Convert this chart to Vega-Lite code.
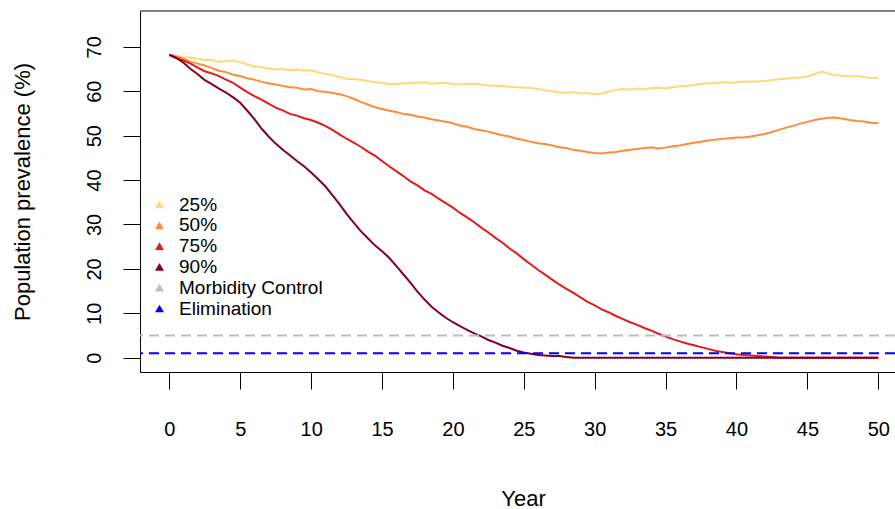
{
  "$schema": "https://vega.github.io/schema/vega-lite/v6.json",
  "width": 755,
  "height": 361,
  "autosize": {"type": "none"},
  "padding": {"left": 140, "top": 11, "right": 0, "bottom": 137},
  "background": "white",
  "config": {"view": {"stroke": null}, "font": "Liberation Sans"},
  "datasets": {
    "prev": [
      {"t":0,"25%":68.2,"50%":68.2,"75%":68.2,"90%":68.2},
      {"t":0.5,"25%":67.7,"50%":67.9,"75%":67.4,"90%":67.5},
      {"t":1,"25%":67.6,"50%":67.3,"75%":66.9,"90%":66.4},
      {"t":1.5,"25%":67.6,"50%":66.6,"75%":66.2,"90%":65.0},
      {"t":2,"25%":67.3,"50%":66.2,"75%":65.3,"90%":63.8},
      {"t":2.5,"25%":67.0,"50%":65.8,"75%":64.5,"90%":62.5},
      {"t":3,"25%":67.0,"50%":65.2,"75%":64.0,"90%":61.6},
      {"t":3.5,"25%":66.6,"50%":64.6,"75%":63.4,"90%":60.6},
      {"t":4,"25%":66.8,"50%":64.3,"75%":62.6,"90%":59.7},
      {"t":4.5,"25%":66.9,"50%":63.7,"75%":61.9,"90%":58.6},
      {"t":5,"25%":66.5,"50%":63.4,"75%":60.8,"90%":57.4},
      {"t":5.5,"25%":66.0,"50%":62.9,"75%":59.8,"90%":55.6},
      {"t":6,"25%":65.6,"50%":62.6,"75%":58.9,"90%":53.7},
      {"t":6.5,"25%":65.4,"50%":62.1,"75%":58.1,"90%":51.6},
      {"t":7,"25%":65.1,"50%":61.8,"75%":57.2,"90%":49.8},
      {"t":7.5,"25%":64.9,"50%":61.5,"75%":56.3,"90%":48.2},
      {"t":8,"25%":65.0,"50%":61.2,"75%":55.7,"90%":46.8},
      {"t":8.5,"25%":64.7,"50%":60.9,"75%":54.9,"90%":45.6},
      {"t":9,"25%":64.9,"50%":60.8,"75%":54.5,"90%":44.3},
      {"t":9.5,"25%":64.6,"50%":60.4,"75%":53.9,"90%":43.1},
      {"t":10,"25%":64.7,"50%":60.5,"75%":53.5,"90%":41.7},
      {"t":10.5,"25%":64.2,"50%":60.0,"75%":52.9,"90%":40.2},
      {"t":11,"25%":63.9,"50%":59.9,"75%":52.2,"90%":38.6},
      {"t":11.5,"25%":63.6,"50%":59.6,"75%":51.3,"90%":36.6},
      {"t":12,"25%":63.2,"50%":59.3,"75%":50.3,"90%":34.6},
      {"t":12.5,"25%":62.8,"50%":58.9,"75%":49.3,"90%":32.4},
      {"t":13,"25%":62.7,"50%":58.3,"75%":48.4,"90%":30.4},
      {"t":13.5,"25%":62.6,"50%":57.6,"75%":47.5,"90%":28.5},
      {"t":14,"25%":62.3,"50%":57.0,"75%":46.4,"90%":26.9},
      {"t":14.5,"25%":62.0,"50%":56.4,"75%":45.5,"90%":25.3},
      {"t":15,"25%":61.9,"50%":56.0,"75%":44.3,"90%":24.0},
      {"t":15.5,"25%":61.6,"50%":55.6,"75%":43.1,"90%":22.5},
      {"t":16,"25%":61.6,"50%":55.3,"75%":42.0,"90%":20.7},
      {"t":16.5,"25%":61.8,"50%":54.9,"75%":40.9,"90%":18.8},
      {"t":17,"25%":61.8,"50%":54.7,"75%":39.7,"90%":16.9},
      {"t":17.5,"25%":61.9,"50%":54.3,"75%":38.8,"90%":14.9},
      {"t":18,"25%":62.0,"50%":54.1,"75%":37.7,"90%":13.1},
      {"t":18.5,"25%":61.7,"50%":53.7,"75%":36.9,"90%":11.5},
      {"t":19,"25%":61.8,"50%":53.4,"75%":35.8,"90%":10.2},
      {"t":19.5,"25%":61.9,"50%":53.1,"75%":34.8,"90%":9.0},
      {"t":20,"25%":61.6,"50%":52.8,"75%":33.8,"90%":8.0},
      {"t":20.5,"25%":61.5,"50%":52.3,"75%":32.6,"90%":7.1},
      {"t":21,"25%":61.7,"50%":52.0,"75%":31.6,"90%":6.3},
      {"t":21.5,"25%":61.6,"50%":51.5,"75%":30.5,"90%":5.5},
      {"t":22,"25%":61.5,"50%":51.2,"75%":29.3,"90%":4.8},
      {"t":22.5,"25%":61.3,"50%":50.9,"75%":28.2,"90%":4.0},
      {"t":23,"25%":61.2,"50%":50.5,"75%":27.0,"90%":3.4},
      {"t":23.5,"25%":61.1,"50%":50.1,"75%":25.9,"90%":2.7},
      {"t":24,"25%":61.0,"50%":49.8,"75%":24.6,"90%":2.2},
      {"t":24.5,"25%":60.9,"50%":49.3,"75%":23.5,"90%":1.6},
      {"t":25,"25%":60.8,"50%":49.0,"75%":22.2,"90%":1.2},
      {"t":25.5,"25%":60.7,"50%":48.6,"75%":21.0,"90%":0.9},
      {"t":26,"25%":60.5,"50%":48.3,"75%":19.8,"90%":0.6},
      {"t":26.5,"25%":60.2,"50%":48.1,"75%":18.7,"90%":0.5},
      {"t":27,"25%":60.0,"50%":47.8,"75%":17.6,"90%":0.4},
      {"t":27.5,"25%":59.7,"50%":47.4,"75%":16.5,"90%":0.4},
      {"t":28,"25%":59.6,"50%":47.2,"75%":15.5,"90%":0.2},
      {"t":28.5,"25%":59.8,"50%":46.8,"75%":14.6,"90%":0},
      {"t":29,"25%":59.5,"50%":46.6,"75%":13.6,"90%":0},
      {"t":29.5,"25%":59.6,"50%":46.3,"75%":12.6,"90%":0},
      {"t":30,"25%":59.3,"50%":46.1,"75%":11.8,"90%":0},
      {"t":30.5,"25%":59.5,"50%":46.0,"75%":10.9,"90%":0},
      {"t":31,"25%":59.9,"50%":46.2,"75%":10.2,"90%":0},
      {"t":31.5,"25%":60.3,"50%":46.3,"75%":9.4,"90%":0},
      {"t":32,"25%":60.5,"50%":46.6,"75%":8.7,"90%":0},
      {"t":32.5,"25%":60.4,"50%":46.8,"75%":8.0,"90%":0},
      {"t":33,"25%":60.6,"50%":47.0,"75%":7.4,"90%":0},
      {"t":33.5,"25%":60.5,"50%":47.2,"75%":6.7,"90%":0},
      {"t":34,"25%":60.7,"50%":47.4,"75%":6.1,"90%":0},
      {"t":34.5,"25%":60.8,"50%":47.1,"75%":5.4,"90%":0},
      {"t":35,"25%":60.6,"50%":47.3,"75%":4.8,"90%":0},
      {"t":35.5,"25%":60.9,"50%":47.6,"75%":4.2,"90%":0},
      {"t":36,"25%":61.1,"50%":47.8,"75%":3.7,"90%":0},
      {"t":36.5,"25%":61.2,"50%":48.1,"75%":3.2,"90%":0},
      {"t":37,"25%":61.4,"50%":48.4,"75%":2.8,"90%":0},
      {"t":37.5,"25%":61.6,"50%":48.6,"75%":2.4,"90%":0},
      {"t":38,"25%":61.8,"50%":48.9,"75%":2.0,"90%":0},
      {"t":38.5,"25%":61.8,"50%":49.1,"75%":1.6,"90%":0},
      {"t":39,"25%":62.0,"50%":49.3,"75%":1.3,"90%":0},
      {"t":39.5,"25%":61.9,"50%":49.4,"75%":1.0,"90%":0},
      {"t":40,"25%":62.0,"50%":49.6,"75%":0.8,"90%":0},
      {"t":40.5,"25%":62.2,"50%":49.6,"75%":0.6,"90%":0},
      {"t":41,"25%":62.1,"50%":49.8,"75%":0.5,"90%":0},
      {"t":41.5,"25%":62.2,"50%":50.1,"75%":0.4,"90%":0},
      {"t":42,"25%":62.3,"50%":50.4,"75%":0.3,"90%":0},
      {"t":42.5,"25%":62.5,"50%":50.8,"75%":0.2,"90%":0},
      {"t":43,"25%":62.7,"50%":51.3,"75%":0,"90%":0},
      {"t":43.5,"25%":62.8,"50%":51.8,"75%":0,"90%":0},
      {"t":44,"25%":63.0,"50%":52.2,"75%":0,"90%":0},
      {"t":44.5,"25%":63.1,"50%":52.7,"75%":0,"90%":0},
      {"t":45,"25%":63.3,"50%":53.1,"75%":0,"90%":0},
      {"t":45.5,"25%":63.8,"50%":53.5,"75%":0,"90%":0},
      {"t":46,"25%":64.4,"50%":53.8,"75%":0,"90%":0},
      {"t":46.5,"25%":64.0,"50%":54.0,"75%":0,"90%":0},
      {"t":47,"25%":63.6,"50%":54.1,"75%":0,"90%":0},
      {"t":47.5,"25%":63.5,"50%":53.8,"75%":0,"90%":0},
      {"t":48,"25%":63.3,"50%":53.5,"75%":0,"90%":0},
      {"t":48.5,"25%":63.4,"50%":53.3,"75%":0,"90%":0},
      {"t":49,"25%":63.2,"50%":53.2,"75%":0,"90%":0},
      {"t":49.5,"25%":63.0,"50%":52.9,"75%":0,"90%":0},
      {"t":50,"25%":62.9,"50%":52.8,"75%":0,"90%":0}
    ],
    "ref": [
      {"series": "Morbidity Control", "value": 5},
      {"series": "Elimination", "value": 1}
    ]
  },
  "layer": [
    {
      "data": {"name": "prev"},
      "transform": [{"fold": ["25%", "50%", "75%", "90%"], "as": ["series", "value"]}],
      "mark": {"type": "line", "strokeWidth": 2},
      "encoding": {
        "x": {
          "field": "t", "type": "quantitative",
          "scale": {"domain": [-2.07, 51.18], "nice": false, "zero": false},
          "axis": {
            "title": "Year", "values": [0,5,10,15,20,25,30,35,40,45,50],
            "grid": false, "tickSize": 17, "tickColor": "#000", "domainColor": "#000",
            "labelColor": "#000", "titleColor": "#000",
            "labelFont": "Liberation Sans", "titleFont": "Liberation Sans",
            "labelFontSize": 20, "labelBaseline": "alphabetic", "labelPadding": 46,
            "labelFlush": false, "labelOverlap": false,
            "titleFontSize": 22, "titleFontWeight": "normal",
            "titleX": 383, "titleY": 133, "titleAlign": "center", "titleBaseline": "alphabetic"
          }
        },
        "y": {
          "field": "value", "type": "quantitative",
          "scale": {"domain": [-3.2, 78.05], "nice": false, "zero": false},
          "axis": {
            "title": "Population prevalence (%)",
            "values": [0,5,10,15,20,25,30,35,40,45,50,55,60,65,70,75],
            "labelExpr": "datum.value % 10 === 0 ? datum.label : ''",
            "grid": false, "tickSize": 17, "tickColor": "#000", "domainColor": "#000",
            "labelColor": "#000", "titleColor": "#000",
            "labelFont": "Liberation Sans", "titleFont": "Liberation Sans",
            "labelFontSize": 20, "labelAngle": -90, "labelAlign": "center",
            "labelBaseline": "alphabetic", "labelPadding": 23, "labelOverlap": false,
            "titleFontSize": 22, "titleFontWeight": "normal", "titleAngle": -90,
            "titleAlign": "center", "titleBaseline": "alphabetic",
            "titleX": -111, "titleY": 180.5
          }
        },
        "color": {
          "field": "series", "type": "nominal",
          "scale": {
            "domain": ["25%", "50%", "75%", "90%", "Morbidity Control", "Elimination"],
            "range": ["#FED976", "#FD8D3C", "#E31A1C", "#800026", "#BEBEBE", "#0000FF"]
          },
          "legend": {
            "title": null, "orient": "none", "legendX": 10, "legendY": 184,
            "symbolType": "triangle-up", "symbolSize": 80, "symbolStrokeWidth": 0,
            "labelFontSize": 19, "labelColor": "#000", "labelFont": "Liberation Sans",
            "labelOffset": 10, "rowPadding": 0.8, "padding": 0,
            "encode": {"symbols": {"update": {"fill": {"scale": "color", "field": "value"}, "opacity": {"value": 1}}}}
          }
        }
      }
    },
    {
      "data": {"name": "ref"},
      "mark": {"type": "rule", "strokeDash": [10, 6], "strokeWidth": 2},
      "encoding": {
        "y": {"field": "value", "type": "quantitative", "title": "Population prevalence (%)"},
        "color": {"field": "series", "type": "nominal"}
      }
    },
    {
      "data": {"values": [{}]},
      "mark": {"type": "rule", "color": "#000", "strokeWidth": 1},
      "encoding": {"y": {"datum": 78.05}}
    }
  ]
}
